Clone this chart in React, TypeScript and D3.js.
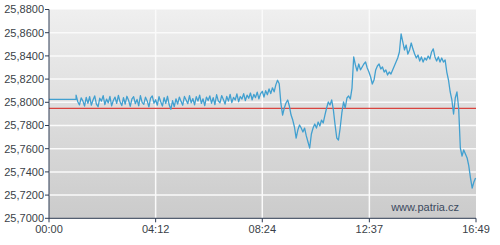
import React from "react";
import * as d3 from "d3";

// Y axis ticks
const yTicks = [25.70, 25.72, 25.74, 25.76, 25.78, 25.80, 25.82, 25.84, 25.86, 25.88];
// X axis ticks (minutes since 00:00) and labels
const xTickMinutes = [0, 252, 504, 757, 1009];
const xTickLabels = ["00:00", "04:12", "08:24", "12:37", "16:49"];

// previous close (red reference line)
const referenceValue = 25.7948;
// value held before first trade
const openingHold = { minute: 0, value: 25.8026 };
// sampled trades: first sample minute and sampling step in minutes
const sampleStart = 64;
const sampleStep = 4;
const sampleValues = [
  25.8062, 25.8005, 25.7978, 25.8038, 25.8012, 25.7968, 25.8042, 25.7992, 25.8048, 25.7975,
  25.8020, 25.8055, 25.7985, 25.7962, 25.8035, 25.8010, 25.8058, 25.7980, 25.8028, 25.7995,
  25.8050, 25.7970, 25.8015, 25.8045, 25.7990, 25.8060, 25.8002, 25.7972, 25.8040, 25.7985,
  25.8052, 25.8018, 25.7966, 25.8030, 25.8048, 25.7988, 25.8025, 25.7970, 25.8058, 25.8000,
  25.7982, 25.8044, 25.8012, 25.7960, 25.8036, 25.8055, 25.7992, 25.8022, 25.7975, 25.8048,
  25.8005, 25.7968, 25.8040, 25.7990, 25.8052, 25.7978, 25.7940, 25.8015, 25.7962, 25.8030,
  25.7985, 25.8045, 25.8008, 25.7975, 25.8050, 25.8020, 25.7988, 25.8058, 25.7995, 25.8032,
  25.7978, 25.8048, 25.8010, 25.8062, 25.7990, 25.8030, 25.7972, 25.8045, 25.8015, 25.8055,
  25.7992, 25.8040, 25.7980, 25.8065, 25.8012, 25.7995, 25.8058, 25.8025, 25.7985, 25.8050,
  25.8010, 25.8068, 25.7998, 25.8042, 25.8020, 25.8072, 25.8005, 25.8050, 25.8028, 25.8075,
  25.8015, 25.8062, 25.8035, 25.8080, 25.8022, 25.8068, 25.8040, 25.8088, 25.8030, 25.8075,
  25.8095, 25.8045, 25.8100, 25.8065, 25.8115, 25.8075, 25.8125, 25.8090, 25.8150, 25.8190,
  25.8160, 25.7990, 25.7890, 25.7951, 25.7994, 25.8020, 25.7968, 25.7890, 25.7847, 25.7787,
  25.7692, 25.7761, 25.7804, 25.7778, 25.7744, 25.7778, 25.7710, 25.7658, 25.7606, 25.7727,
  25.7778, 25.7813, 25.7778, 25.7830, 25.7796, 25.7847, 25.7822, 25.7890, 25.7951, 25.8003,
  25.7977, 25.8020, 25.7934, 25.7804, 25.7692, 25.7675, 25.7778, 25.7908, 25.8003, 25.7951,
  25.8037, 25.8054, 25.8028, 25.8123, 25.8391, 25.8322, 25.8270, 25.8330, 25.8279, 25.8304,
  25.8330, 25.8347, 25.8296, 25.8261, 25.8218, 25.8158, 25.8192, 25.8279, 25.8313, 25.8330,
  25.8287, 25.8304, 25.8261, 25.8279, 25.8235, 25.8261, 25.8244, 25.8279, 25.8313, 25.8347,
  25.8382, 25.8434, 25.8589, 25.8520, 25.8451, 25.8494, 25.8416, 25.8451, 25.8511, 25.8459,
  25.8416, 25.8382, 25.8408, 25.8356, 25.8391, 25.8347, 25.8382, 25.8365, 25.8399, 25.8373,
  25.8434, 25.8460, 25.8391, 25.8356, 25.8391, 25.8347, 25.8382, 25.8347, 25.8365, 25.8261,
  25.8192, 25.8089, 25.8020, 25.7899, 25.8037, 25.8089, 25.7951, 25.7606, 25.7537, 25.7589,
  25.7554, 25.7520, 25.7451, 25.7347, 25.7261, 25.7313, 25.7347,
];

const W = 500;
const H = 245;
const left = 49;
const right = 476;
const top = 9.5;
const bottom = 218.3;

export default function App() {
  const x = d3.scaleLinear().domain([0, 1009]).range([left, right]);
  const y = d3.scaleLinear().domain([25.70, 25.88]).range([bottom, top]);

  const points: [number, number][] = [[openingHold.minute, openingHold.value]];
  points.push([sampleStart, openingHold.value]);
  sampleValues.forEach((v, i) => points.push([sampleStart + i * sampleStep, v]));

  const line = d3
    .line<[number, number]>()
    .x((d) => x(d[0]))
    .y((d) => y(d[1]));

  const fmt = (v: number) => d3.format(".4f")(v).replace(".", ",");
  const font = "Arial, 'Liberation Sans', sans-serif";

  return (
    <svg
      width={W}
      height={H}
      style={{ position: "absolute", left: 0, top: 0, background: "#fff" }}
    >
      <defs>
        <linearGradient id="bg" x1="0" y1="0" x2="0" y2="1">
          <stop offset="0%" stopColor="#efefef" />
          <stop offset="100%" stopColor="#cbcbcb" />
        </linearGradient>
      </defs>
      <rect x={left} y={top} width={right - left} height={bottom - top} fill="url(#bg)" />
      {yTicks.slice(1, -1).map((t) => (
        <line key={"gy" + t} x1={left} x2={right} y1={y(t)} y2={y(t)} stroke="#fafafa" strokeWidth={1.5} />
      ))}
      {xTickMinutes.slice(1, -1).map((m) => (
        <line key={"gx" + m} x1={x(m)} x2={x(m)} y1={top} y2={bottom} stroke="#fafafa" strokeWidth={1.5} />
      ))}
      <line x1={left} x2={right} y1={y(referenceValue)} y2={y(referenceValue)} stroke="#d9443f" strokeWidth={1.1} />
      <path d={line(points) || ""} fill="none" stroke="#42a0d0" strokeWidth={1.3} strokeLinejoin="round" />
      {/* axes */}
      <line x1={left} x2={left} y1={top} y2={bottom} stroke="#2d3b52" strokeWidth={1} />
      <line x1={left} x2={right} y1={bottom} y2={bottom} stroke="#2d3b52" strokeWidth={1} />
      {yTicks.map((t) => (
        <g key={"ty" + t}>
          <line x1={left - 4} x2={left} y1={y(t)} y2={y(t)} stroke="#2d3b52" strokeWidth={1} />
          <text x={left - 5} y={y(t)} dy="0.35em" textAnchor="end" fontFamily={font} fontSize={11} fill="#3a3f48">
            {fmt(t)}
          </text>
        </g>
      ))}
      {xTickMinutes.map((m, i) => (
        <g key={"tx" + m}>
          <line x1={x(m)} x2={x(m)} y1={bottom} y2={bottom + 4} stroke="#2d3b52" strokeWidth={1} />
          <text x={x(m)} y={bottom + 15} textAnchor="middle" fontFamily={font} fontSize={11} fill="#3a3f48">
            {xTickLabels[i]}
          </text>
        </g>
      ))}
      <text x={459} y={211} textAnchor="end" fontFamily={font} fontSize={11} fill="#3b4a5e">
        www.patria.cz
      </text>
    </svg>
  );
}
